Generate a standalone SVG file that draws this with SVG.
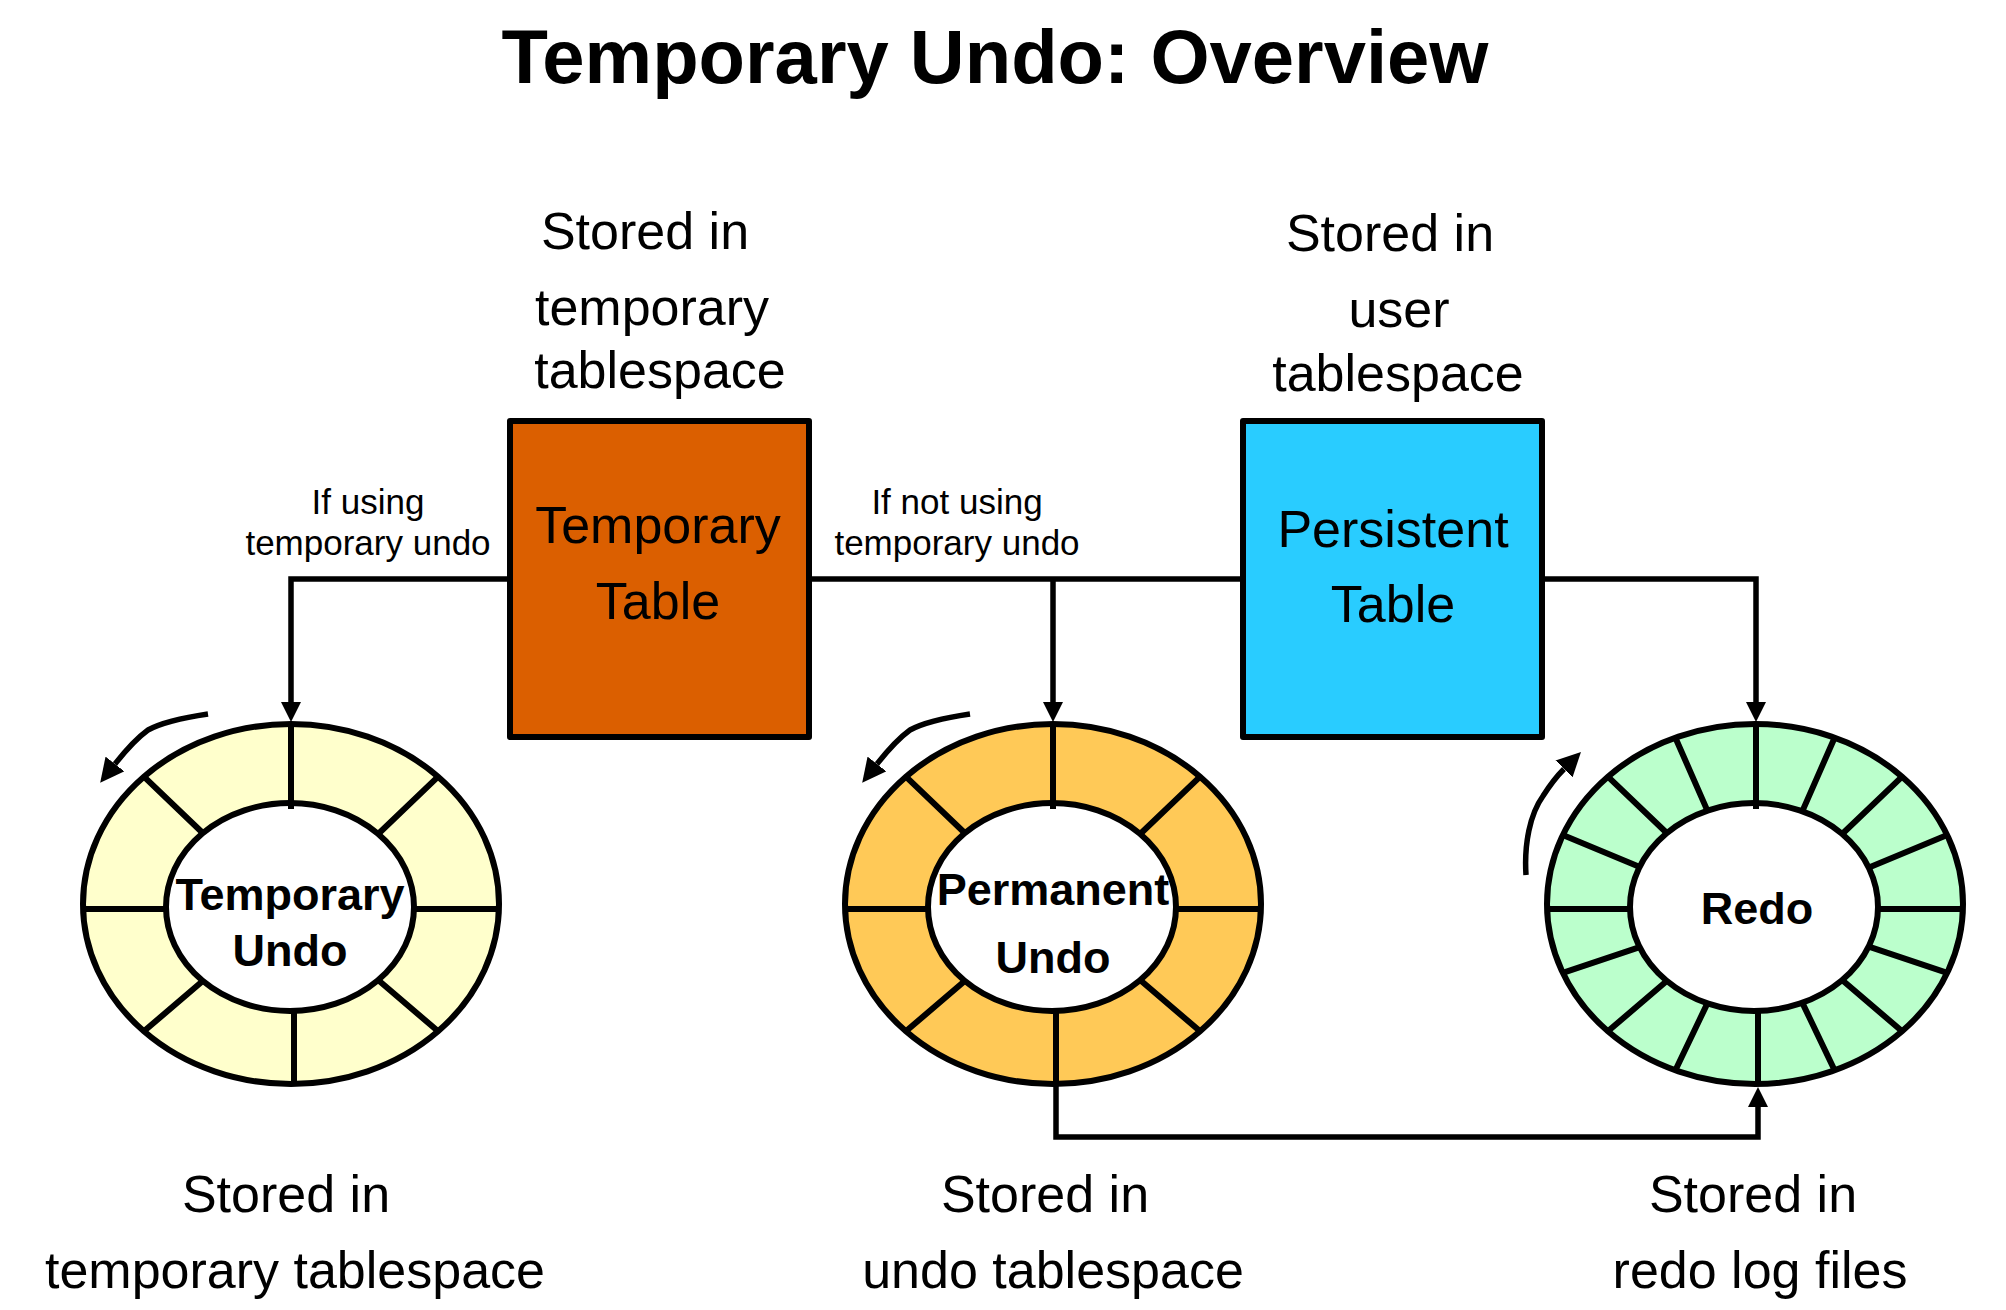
<svg xmlns="http://www.w3.org/2000/svg" xmlns:xlink="http://www.w3.org/1999/xlink" width="2006" height="1310" viewBox="0 0 2006 1310">
<style>
text{font-family:"Liberation Sans",Arial,sans-serif;fill:#000;text-anchor:middle}
.title{font-size:76px;font-weight:bold}
.lbl{font-size:52px}
.small{font-size:35px}
.ringtxt{font-size:45px;font-weight:bold}
.box{stroke:#000;stroke-width:6;stroke-linejoin:round}
.conn{fill:none;stroke:#000;stroke-width:5.5}
.rot{fill:none;stroke:#000;stroke-width:5.5}
.outer{stroke:#000;stroke-width:6}
.inner{fill:#fff;stroke:#000;stroke-width:6}
.spk{fill:none;stroke:#000;stroke-width:6}
</style>
<defs>
<marker id="arr" markerUnits="userSpaceOnUse" markerWidth="20" markerHeight="20" refX="0" refY="10" orient="auto" viewBox="0 0 20 20">
<path d="M0,0 L20,10 L0,20 z" fill="#000"/>
</marker>
<marker id="arr2" markerUnits="userSpaceOnUse" markerWidth="24" markerHeight="24" refX="0" refY="12" orient="auto" viewBox="0 0 24 24">
<path d="M0,0 L24,12 L0,24 z" fill="#000"/>
</marker>
<path id="spokes8" class="spk" d="M-208,5 H-124 M208,5 H124 M3,107 V180 M147.1,-127.3 L87.7,-70.5 M-147.1,-127.3 L-87.7,-70.5 M147.1,127.3 L87.7,76.5 M-147.1,127.3 L-87.7,76.5"/>
<path id="spokes16" class="spk" d="M-208,5 H-124 M208,5 H124 M3,107 V180 M147.1,-127.3 L87.7,-70.5 M-147.1,-127.3 L-87.7,-70.5 M147.1,127.3 L87.7,76.5 M-147.1,127.3 L-87.7,76.5 M192.2,-68.9 L114.6,-36.8 M-192.2,-68.9 L-114.6,-36.8 M192.2,68.9 L114.6,42.8 M-192.2,68.9 L-114.6,42.8 M79.6,-166.3 L47.5,-93.1 M-79.6,-166.3 L-47.5,-93.1 M79.6,166.3 L47.5,99.1 M-79.6,166.3 L-47.5,99.1"/>
</defs>
<rect width="2006" height="1310" fill="#fff"/>

<g id="title"><text class="title" x="995" y="83">Temporary Undo: Overview</text></g>

<g id="temporary-table">
<rect class="box" x="510" y="421" width="299" height="316" fill="#DB5F00"/>
<text class="lbl" x="658" y="543">Temporary</text>
<text class="lbl" x="658" y="619">Table</text>
</g>
<g id="temporary-table-note">
<text class="lbl" x="645" y="249">Stored in</text>
<text class="lbl" x="652" y="325">temporary</text>
<text class="lbl" x="660" y="388">tablespace</text>
</g>

<g id="persistent-table">
<rect class="box" x="1243" y="421" width="299" height="316" fill="#29CCFF"/>
<text class="lbl" x="1393" y="547">Persistent</text>
<text class="lbl" x="1393" y="622">Table</text>
</g>
<g id="persistent-table-note">
<text class="lbl" x="1390" y="251">Stored in</text>
<text class="lbl" x="1399" y="327">user</text>
<text class="lbl" x="1398" y="391">tablespace</text>
</g>

<g id="connectors">
<path class="conn" d="M510,579 H291 V702" marker-end="url(#arr)"/>
<path class="conn" d="M809,579 H1243"/>
<path class="conn" d="M1053,579 V702" marker-end="url(#arr)"/>
<path class="conn" d="M1542,579 H1756 V702" marker-end="url(#arr)"/>
<path class="conn" d="M1056,1084 V1137 H1758 V1107" marker-end="url(#arr)"/>
<text class="small" x="368" y="514">If using</text>
<text class="small" x="368" y="555">temporary undo</text>
<text class="small" x="957" y="514">If not using</text>
<text class="small" x="957" y="555">temporary undo</text>
</g>

<g id="temporary-undo" transform="translate(291,904)">
<ellipse class="outer" cx="0" cy="0" rx="208" ry="180" fill="#FFFFCC"/>
<use xlink:href="#spokes8"/>
<ellipse class="inner" cx="-1" cy="3" rx="124" ry="104"/>
<path class="spk" d="M0,-180 V-95"/>
<path class="rot" d="M-83,-190 C-110,-186 -132,-180 -143,-174 C-154,-166 -165,-154 -176,-140" marker-end="url(#arr2)"/>
<text class="ringtxt" x="-1" y="6">Temporary</text>
<text class="ringtxt" x="-1" y="62">Undo</text>
</g>
<g id="temporary-undo-note">
<text class="lbl" x="286" y="1212">Stored in</text>
<text class="lbl" x="295" y="1288">temporary tablespace</text>
</g>

<g id="permanent-undo" transform="translate(1053,904)">
<ellipse class="outer" cx="0" cy="0" rx="208" ry="180" fill="#FFC957"/>
<use xlink:href="#spokes8"/>
<ellipse class="inner" cx="-1" cy="3" rx="124" ry="104"/>
<path class="spk" d="M0,-180 V-95"/>
<path class="rot" d="M-83,-190 C-110,-186 -132,-180 -143,-174 C-154,-166 -165,-154 -176,-140" marker-end="url(#arr2)"/>
<text class="ringtxt" x="0" y="1">Permanent</text>
<text class="ringtxt" x="0" y="69">Undo</text>
</g>
<g id="permanent-undo-note">
<text class="lbl" x="1045" y="1212">Stored in</text>
<text class="lbl" x="1053" y="1288">undo tablespace</text>
</g>

<g id="redo" transform="translate(1755,904)">
<ellipse class="outer" cx="0" cy="0" rx="208" ry="180" fill="#BBFFCC"/>
<use xlink:href="#spokes16"/>
<ellipse class="inner" cx="-1" cy="3" rx="124" ry="104"/>
<path class="spk" d="M1,-180 V-95"/>
<path class="rot" d="M-229,-29 C-231,-60 -225,-90 -212,-108 C-205,-119 -199,-127 -191,-135" marker-end="url(#arr2)"/>
<text class="ringtxt" x="2" y="20">Redo</text>
</g>
<g id="redo-note">
<text class="lbl" x="1753" y="1212">Stored in</text>
<text class="lbl" x="1760" y="1288">redo log files</text>
</g>
</svg>
